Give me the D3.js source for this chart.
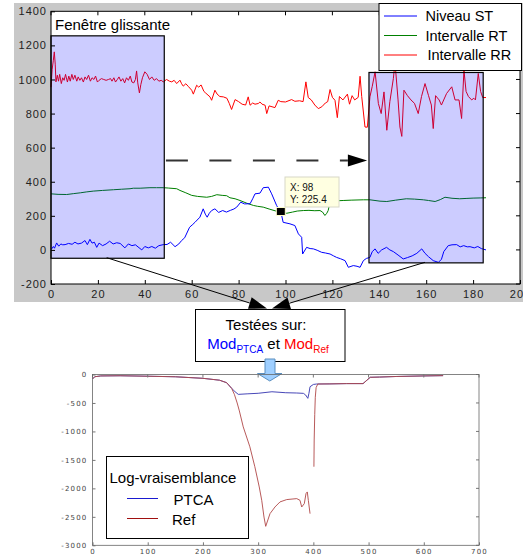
<!DOCTYPE html>
<html><head><meta charset="utf-8">
<script src="https://cdn.jsdelivr.net/npm/d3@7"></script>
<style>
body{margin:0;background:#fff}
svg{display:block;font-family:"Liberation Sans",Arial,sans-serif}
</style>
</head><body>
<svg id="c" width="523" height="558"></svg>
<script>
// ---------- DATA (top chart) ----------
const topXTicks = [0,20,40,60,80,100,120,140,160,180,200];
const topYTicks = [-200,0,200,400,600,800,1000,1200,1400];
const seriesNames = ["Niveau ST","Intervalle RT","Intervalle RR"];

const rr = [[0,955],[0.5,1060],[1,1113],[1.4,1162],[1.8,1090],[2.1,986],[2.7,1025],[3.2,990],[3.7,1030],[4.4,976],[5,1010],[5.6,995],[6.2,1030],[7,985],[7.6,1020],[8.2,990],[8.9,1030],[9.5,1000],[10.2,1025],[11,990],[11.6,1015],[12.3,995],[13,1010],[13.8,985],[14.5,1015],[15.2,1000],[16,1025],[16.8,990],[17.5,1010],[18.3,1000],[19,1020],[19.8,985],[20.5,995],[21.5,1005],[22.5,1000],[23.5,995],[24.5,1000],[25.4,1005],[26,990],[26.8,1010],[27.5,985],[28.3,1000],[29,1015],[29.8,990],[30.6,1005],[31.4,980],[32.2,1010],[33,995],[33.8,1020],[34.5,985],[35.3,980],[36,1000],[36.5,1050],[37,980],[37.7,921],[38.3,970],[39,1010],[40,1045],[41,1030],[42,1000],[43,1015],[44,995],[45,1005],[46,990],[47,995],[47.9,986],
[49.3,1000],[50.5,990],[51.5,986],[52.5,995],[53.6,976],[55,996],[55.7,975],[56.4,961],[57.5,975],[58.5,960],[60,937],[60.7,914],[62.1,966],[63,955],[64,968],[65.2,930],[66,920],[67.8,898],[68.5,878],[69.9,937],[70.8,915],[72,900],[73.5,898],[75,890],[76,860],[77,824],[78.5,882],[80,870],[81.5,855],[83,850],[84.1,898],[84.9,849],[86,862],[87,855],[88.4,859],[89.1,868],[90,855],[91.3,849],[92,800],[93,845],[95.5,835],[96.9,878],[98,870],[100,868],[102.6,882],[104,872],[106,875],[107.5,870],[108.7,986],[109.7,894],[111,880],[112.5,850],[114,829],[115.5,840],[117,862],[118,870],[119,941],[120,895],[121.1,878],[122.1,776],[123,900],[124.5,880],[126.4,914],[127.3,855],[128.4,905],[129.5,880],[131,895],[131.8,1019],[132.5,900],[133.9,721],[134.9,720],[136,898],[137,960],[138.2,1045],[139.6,859],[140.8,800],[142,927],[143.2,702],[144.5,870],[146,1006],[146.7,1100],[148,880],[148.8,721],[149.6,666],[150.5,937],[152,905],[153.5,880],[155,860],[156.6,800],[158,900],[159.5,976],[161,905],[162.2,850],[163,712],[164,905],[165.5,880],[166.5,850],[168.7,918],[170.9,957],[172.3,880],[174,880],[175.1,771],[176.1,1054],[177,930],[178,900],[179.4,880],[180.3,890],[181,880],[182.2,1035],[183.2,930],[184.1,894],[185.5,894]];

const st = [[0.3,6],[1,20],[1.5,10],[2.4,41],[3.3,22],[4.2,35],[5,30],[6,31],[7.5,38],[9,33],[10.2,45],[11.5,35],[13,40],[14.5,55],[15.5,31],[16.6,62],[17.5,40],[18.5,45],[19.5,15],[20.5,40],[22,25],[23.5,35],[25,51],[26.5,35],[28,42],[29.5,38],[31.5,12],[33,35],[34.5,25],[36,30],[38.7,0],[40,20],[41.5,12],[43,20],[44.5,10],[46,25],[47.9,31],[49.5,32],[51,45],[52.9,19],[54.5,35],[55.7,55],[57,71],[59.1,133],[60.5,150],[61.4,162],[63.5,192],[64.9,241],[65.8,210],[66.6,192],[67.5,215],[68.5,231],[69.9,241],[71.5,220],[73.2,231],[74.8,222],[76.5,232],[78,240],[79.2,251],[80.9,280],[82.5,270],[84.9,271],[86,300],[87,329],[89.1,333],[90.5,365],[92.7,368],[94.1,329],[96.2,261],[97.6,227],[98,225.4],[99,162],[101.9,153],[104,143],[105.5,94],[106.9,74],[107.3,-24],[109,15],[110.5,8],[111.9,6],[113.5,-2],[115.4,-14],[117,-18],[119,-24],[120.5,-35],[121.8,-44],[123.5,-52],[125.4,-63],[126.8,-102],[128.9,-92],[130.5,-96],[131.8,-102],[133.2,-63],[134.5,-50],[136,-44],[137,-10],[138.2,6],[139.5,-20],[141,0],[143.1,15],[144.5,0],[146,-10],[148,-30],[150.2,-53],[152,-45],[154,-35],[156,-20],[158.1,6],[159.5,-20],[161,-40],[163,-63],[165.2,-73],[166.5,-55],[167.5,-10],[169.4,25],[171,30],[173,31],[174.5,18],[176,25],[177.5,18],[178.7,19],[180.5,12],[182,20],[183.5,8],[185.5,0]];

const rt = [[0,329],[3,326],[6.7,325],[9.5,330],[12.5,335],[15,340],[18,345],[22,349],[26.6,353],[30,356],[33.7,359],[35.1,362],[38,362],[42.2,365],[45,365],[47.9,365],[50,363],[53.6,359],[55,349],[57.5,335],[60,320],[62.5,314],[66.4,309],[68.5,314],[70.7,324],[73,320],[74.9,318],[76.3,306],[78.5,300],[80.6,290],[83.5,274],[86.3,261],[88,256],[90.5,251],[93,240],[96.2,227],[98,222],[100.5,215],[103,222],[105,228],[107.6,231],[110,232],[112.5,230],[114.7,231],[115.8,222],[116.8,202],[117.6,215],[118.2,231],[119,280],[121.5,288],[124.6,290],[128,292],[133.2,294],[136,294],[140.3,286],[143.2,284],[147,292],[151.5,300],[155,298],[158.8,294],[161,290],[163.8,284],[166,295],[168,309],[171,303],[174.3,300],[177,302],[180,304],[183,305],[185.5,306]];

// sliding windows [x0, x1, yBottom, yTop]
const windows = [[0,48.3,-49,1256],[135.6,184.3,-76,1041]];
const datatip = {x:98, y:225.4};

// ---------- DATA (bottom chart) ----------
const botXTicks = [0,100,200,300,400,500,600,700];
const botYTicks = [-3000,-2500,-2000,-1500,-1000,-500,0];
const ptca = [[0,-79],[4,-39],[15,-25],[50,-22],[100,-30],[150,-40],[200,-67],[230,-100],[243,-144],[252,-243],[258,-300],[264,-349],[280,-340],[300,-330],[325,-303],[350,-320],[370,-325],[382,-331],[386,-360],[390,-419],[392,-330],[394,-215],[400,-175],[406,-167],[430,-165],[460,-160],[490,-160],[497,-100],[503,-49],[520,-45],[550,-35],[600,-25],[635,-20]];
const refA = [[0,-79],[4,-39],[15,-25],[50,-22],[100,-30],[150,-40],[200,-67],[230,-100],[243,-144],[252,-243],[257,-350],[262,-500],[266,-640],[273,-920],[285,-1270],[294,-1620],[302,-1975],[306.5,-2210],[310.6,-2504],[313.7,-2667],[321.5,-2444],[330.5,-2327],[339.6,-2238],[351.7,-2197],[369.9,-2180],[375.8,-2210],[378.9,-2327],[383.6,-2268],[386.7,-2092],[389,-2063],[390.9,-2210],[394,-2444]];
const refB = [[401,-1620],[401.5,-1150],[402.5,-700],[403.5,-400],[405,-230],[408,-167],[430,-165],[460,-160],[490,-160],[497,-100],[503,-49],[520,-45],[550,-35],[600,-25],[635,-20]];
const botLegend = ["PTCA","Ref"];

// ---------- DRAW ----------
const svg = d3.select("#c");
const fmt = d => String(d);

svg.append("rect").attr("x",14).attr("y",3).attr("width",509).attr("height",299).attr("fill","#c8c8c8");

const xt = d3.scaleLinear().domain([0,200]).range([51,520]);
const yt = d3.scaleLinear().domain([-200,1400]).range([284,11.3]);

svg.append("rect").attr("x",xt(0)).attr("y",yt(1400)).attr("width",xt(200)-xt(0)).attr("height",yt(-200)-yt(1400)).attr("fill","#fff");

const lineT = d3.line().x(d=>xt(d[0])).y(d=>yt(d[1]));
const gLines = svg.append("g");
gLines.append("path").attr("d",lineT(rt)).attr("fill","none").attr("stroke","#008000").attr("stroke-width",1);
gLines.append("path").attr("d",lineT(st)).attr("fill","none").attr("stroke","#0000ff").attr("stroke-width",1);
gLines.append("path").attr("d",lineT(rr)).attr("fill","none").attr("stroke","#ff0000").attr("stroke-width",1);

svg.selectAll("rect.win").data(windows).enter().append("rect").attr("class","win")
  .attr("x",d=>xt(d[0])).attr("y",d=>yt(d[3]))
  .attr("width",d=>xt(d[1])-xt(d[0])).attr("height",d=>yt(d[2])-yt(d[3]))
  .attr("fill","rgba(0,0,255,0.2)").attr("stroke","#000").attr("stroke-width",1.2);

const axL = svg.append("g").attr("transform",`translate(${xt(0)},0)`)
  .call(d3.axisLeft(yt).tickValues(topYTicks).tickFormat(fmt).tickSize(-4).tickPadding(4));
const axB = svg.append("g").attr("transform",`translate(0,${yt(-200)})`)
  .call(d3.axisBottom(xt).tickValues(topXTicks).tickFormat(fmt).tickSize(-4).tickPadding(6));
[axL,axB].forEach(a=>{a.select(".domain").remove();
  a.selectAll("text").attr("font-size",11).attr("letter-spacing",1).attr("fill","#222").attr("font-family","Liberation Sans, Arial, sans-serif");
  a.selectAll("line").attr("stroke","#000");});
svg.append("g").selectAll("line").data(topXTicks).enter().append("line")
  .attr("x1",d=>xt(d)).attr("x2",d=>xt(d)).attr("y1",yt(1400)).attr("y2",yt(1400)+4).attr("stroke","#000");
svg.append("g").selectAll("line").data(topYTicks).enter().append("line")
  .attr("x1",xt(200)).attr("x2",xt(200)-4).attr("y1",d=>yt(d)).attr("y2",d=>yt(d)).attr("stroke","#000");
svg.append("rect").attr("x",xt(0)).attr("y",yt(1400)).attr("width",xt(200)-xt(0)).attr("height",yt(-200)-yt(1400))
  .attr("fill","none").attr("stroke","#000").attr("stroke-width",1);

svg.append("text").attr("x",55).attr("y",30).attr("font-size",15).attr("fill","#000").text("Fenêtre glissante");

const ay = 525;
svg.append("line").attr("x1",xt(49)).attr("x2",xt(126.6)).attr("y1",yt(ay)).attr("y2",yt(ay))
  .attr("stroke","#333").attr("stroke-width",2).attr("stroke-dasharray","22,21.5");
svg.append("path").attr("d",`M${xt(126.6)},${yt(ay)-6}L${xt(134.8)},${yt(ay)}L${xt(126.6)},${yt(ay)+6}Z`).attr("fill","#000");

const mx = xt(datatip.x), my = yt(datatip.y);
svg.append("rect").attr("x",mx-4.5).attr("y",my-4).attr("width",9).attr("height",8).attr("fill","#000").attr("stroke","#ffffcc").attr("stroke-width",1);
svg.append("rect").attr("x",285).attr("y",177).attr("width",54).attr("height",30).attr("fill","#ffffe1").attr("stroke","#d8d8c8");
svg.append("text").attr("x",290).attr("y",191).attr("font-size",10).attr("fill","#111").text("X: "+datatip.x);
svg.append("text").attr("x",290).attr("y",203).attr("font-size",10).attr("fill","#111").text("Y: "+datatip.y);

const lg = svg.append("g");
lg.append("rect").attr("x",379).attr("y",3.5).attr("width",142.5).attr("height",67).attr("fill","#fff").attr("stroke","#000").attr("stroke-width",1);
const lgColors = ["#0000ff","#008000","#ff0000"];
seriesNames.forEach((n,i)=>{
  const yy = 16 + i*19.5;
  lg.append("line").attr("x1",384).attr("x2",417).attr("y1",yy).attr("y2",yy).attr("stroke",lgColors[i]).attr("stroke-width",1);
  lg.append("text").attr("x",i==2?427.5:425.5).attr("y",yy+5).attr("font-size",14.5).attr("fill","#000").text(n);
});

function arrow(x1,y1,x2,y2){
  const dx=x2-x1, dy=y2-y1, L=Math.hypot(dx,dy), ux=dx/L, uy=dy/L;
  const bx=x2-ux*18, by=y2-uy*18, px=-uy*6, py=ux*6;
  svg.append("line").attr("x1",x1).attr("y1",y1).attr("x2",bx).attr("y2",by).attr("stroke","#000").attr("stroke-width",1);
  svg.append("path").attr("d",`M${x2},${y2}L${bx+px},${by+py}L${bx-px},${by-py}Z`).attr("fill","#000");
}
arrow(106.7,257.7,267,308.5);
arrow(425,262.3,272,308.5);

svg.append("rect").attr("x",195.5).attr("y",309.5).attr("width",149.5).attr("height",52).attr("fill","#fff").attr("stroke","#000").attr("stroke-width",1);
svg.append("text").attr("x",266).attr("y",329.5).attr("text-anchor","middle").attr("font-size",15).attr("fill","#000").text("Testées sur:");
const t2 = svg.append("text").attr("x",268).attr("y",348.5).attr("text-anchor","middle").attr("font-size",15);
t2.append("tspan").attr("fill","#0000ff").text("Mod");
t2.append("tspan").attr("fill","#0000ff").attr("font-size",10).attr("dy",4).text("PTCA");
t2.append("tspan").attr("fill","#000").attr("dy",-4).text(" et ");
t2.append("tspan").attr("fill","#ff0000").text("Mod");
t2.append("tspan").attr("fill","#ff0000").attr("font-size",10).attr("dy",4).text("Ref");

svg.append("path").attr("d","M265,359L275,359L275,373.5L282,373.5L269.8,381L257.5,373.5L265,373.5Z")
  .attr("fill","#9fcfff").attr("stroke","#5a8fc0").attr("stroke-width",1);

// ---------- bottom chart ----------
const xb = d3.scaleLinear().domain([0,700]).range([92.5,479]);
const yb = d3.scaleLinear().domain([-3000,0]).range([545.3,374.5]);
const lineB = d3.line().x(d=>xb(d[0])).y(d=>yb(d[1]));

svg.append("path").attr("d",lineB(ptca)).attr("fill","none").attr("stroke","#4848b8").attr("stroke-width",1);
[refA,refB].forEach(s=>svg.append("path").attr("d",lineB(s)).attr("fill","none").attr("stroke","#b04848").attr("stroke-width",1).attr("stroke-opacity",0.9));

const bL = svg.append("g").attr("transform",`translate(${xb(0)},0)`)
  .call(d3.axisLeft(yb).tickValues(botYTicks).tickFormat(fmt).tickSize(-3).tickPadding(5));
const bB = svg.append("g").attr("transform",`translate(0,${yb(-3000)})`)
  .call(d3.axisBottom(xb).tickValues(botXTicks).tickFormat(fmt).tickSize(-3).tickPadding(4));
[bL,bB].forEach(a=>{a.select(".domain").remove();
  a.selectAll("text").attr("font-size",7).attr("letter-spacing",1.2).attr("fill","#444").attr("font-family","DejaVu Sans, sans-serif");
  a.selectAll("line").attr("stroke","#777");});
svg.append("g").selectAll("line").data(botXTicks).enter().append("line")
  .attr("x1",d=>xb(d)).attr("x2",d=>xb(d)).attr("y1",yb(0)).attr("y2",yb(0)+3).attr("stroke","#777");
svg.append("g").selectAll("line").data(botYTicks).enter().append("line")
  .attr("x1",xb(700)).attr("x2",xb(700)-3).attr("y1",d=>yb(d)).attr("y2",d=>yb(d)).attr("stroke","#777");
svg.append("rect").attr("x",xb(0)).attr("y",yb(0)).attr("width",xb(700)-xb(0)).attr("height",yb(-3000)-yb(0))
  .attr("fill","none").attr("stroke","#666").attr("stroke-width",0.8);

const bl = svg.append("g");
bl.append("rect").attr("x",106.5).attr("y",456.5).attr("width",142).attr("height",82).attr("fill","#fff").attr("stroke","#000").attr("stroke-width",1);
bl.append("text").attr("x",109.5).attr("y",483).attr("font-size",15).attr("fill","#000").text("Log-vraisemblance");
const blColors = ["#1a1ad0","#a01010"];
botLegend.forEach((n,i)=>{
  const yy = 498.5 + i*20;
  bl.append("line").attr("x1",127).attr("x2",158).attr("y1",yy).attr("y2",yy).attr("stroke",blColors[i]).attr("stroke-width",1);
  bl.append("text").attr("x",i==0?173.5:172).attr("y",yy+6).attr("font-size",15).attr("fill","#000").text(n);
});
</script>
</body></html>
